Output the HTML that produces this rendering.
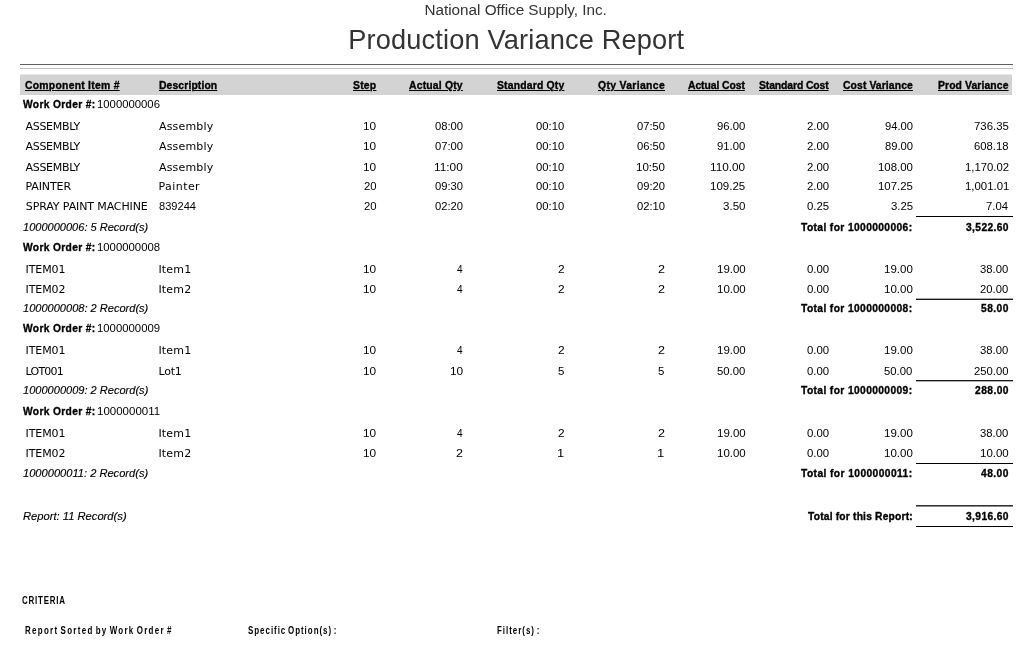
<!DOCTYPE html>
<html lang="en">
<head>
<meta charset="utf-8">
<title>Production Variance Report</title>
<style>
html,body{margin:0;padding:0;background:#fff;}
body{width:1035px;height:648px;position:relative;overflow:hidden;font-family:"Liberation Sans","DejaVu Sans",sans-serif;color:#000;}
.s{position:absolute;white-space:pre;line-height:1;display:block;transform-origin:0 0;}
.r{font-family:"DejaVu Sans","Liberation Sans",sans-serif;color:#000;}
.n{font-family:"Liberation Sans",sans-serif;color:#000;}
.h{font-family:"Liberation Sans",sans-serif;font-weight:bold;text-decoration:underline;text-underline-offset:1px;text-decoration-thickness:1px;-webkit-text-stroke:0.35px #000;}
.b{font-family:"Liberation Sans",sans-serif;font-weight:bold;-webkit-text-stroke:0.35px #000;}
.i{font-family:"Liberation Sans",sans-serif;font-style:italic;color:#000;-webkit-text-stroke:0.15px #000;}
.c{font-family:"Liberation Sans",sans-serif;color:#000;font-weight:bold;}
.t1{font-family:"Liberation Sans",sans-serif;color:#333;}
.t2{font-family:"Liberation Sans",sans-serif;color:#333;}
.l{position:absolute;}
#band{position:absolute;left:20px;top:74px;width:992px;height:21px;background:#d3d3d3;border-top:1px solid #e8e8e8;box-sizing:border-box;}
</style>
</head>
<body>
<div id="band"></div>
<div class="l" style="left:20px;top:64px;width:993px;height:1px;background:#606060"></div>
<div class="l" style="left:20px;top:68px;width:993px;height:1px;background:#c0c0c0"></div>
<div class="l" style="left:916px;top:216px;width:97px;height:1px;background:#000"></div>
<div class="l" style="left:916px;top:298px;width:97px;height:1px;background:#aaa"></div>
<div class="l" style="left:916px;top:299px;width:97px;height:1px;background:#1a1a1a"></div>
<div class="l" style="left:916px;top:380px;width:97px;height:1px;background:#1a1a1a"></div>
<div class="l" style="left:916px;top:381px;width:97px;height:1px;background:#b0b0b0"></div>
<div class="l" style="left:916px;top:463px;width:97px;height:1px;background:#000"></div>
<div class="l" style="left:916px;top:505px;width:97px;height:1px;background:#333"></div>
<div class="l" style="left:916px;top:506px;width:97px;height:1px;background:#888"></div>
<div class="l" style="left:916px;top:526px;width:97px;height:1px;background:#000"></div>
<span class="s t1" style="font-size:15.3px;left:424.53px;top:2.00px;letter-spacing:-0.029px">National Office Supply, Inc.</span>
<span class="s t2" style="font-size:27.2px;left:348.20px;top:26.00px;letter-spacing:0.157px">Production Variance Report</span>
<span class="s h" style="font-size:11.3px;left:24.98px;top:79.80px;letter-spacing:0.272px;transform:scaleX(0.9200)">Component Item #</span>
<span class="s h" style="font-size:11.3px;left:158.54px;top:79.80px;letter-spacing:0.111px;transform:scaleX(0.9200)">Description</span>
<span class="s h" style="font-size:11.3px;left:352.96px;top:79.80px;letter-spacing:0.242px;transform:scaleX(0.9200)">Step</span>
<span class="s h" style="font-size:11.3px;left:409.09px;top:79.80px;letter-spacing:0.202px;transform:scaleX(0.9200)">Actual Qty</span>
<span class="s h" style="font-size:11.3px;left:496.85px;top:79.80px;letter-spacing:0.196px;transform:scaleX(0.9200)">Standard Qty</span>
<span class="s h" style="font-size:11.3px;left:598.30px;top:79.80px;letter-spacing:0.364px;transform:scaleX(0.9200)">Qty Variance</span>
<span class="s h" style="font-size:11.3px;left:687.89px;top:79.80px;letter-spacing:-0.098px;transform:scaleX(0.9200)">Actual Cost</span>
<span class="s h" style="font-size:11.3px;left:758.90px;top:79.80px;letter-spacing:-0.122px;transform:scaleX(0.9200)">Standard Cost</span>
<span class="s h" style="font-size:11.3px;left:843.46px;top:79.80px;letter-spacing:0.094px;transform:scaleX(0.9200)">Cost Variance</span>
<span class="s h" style="font-size:11.3px;left:938.25px;top:79.80px;letter-spacing:0.103px;transform:scaleX(0.9200)">Prod Variance</span>
<span class="s b" style="font-size:10.9px;left:23.20px;top:99.10px;letter-spacing:0.365px;transform:scaleX(0.9400)">Work Order #:</span>
<span class="s n" style="font-size:11.7px;left:96.64px;top:98.10px;transform:scaleX(0.9680)">1000000006</span>
<span class="s r" style="font-size:11.0px;left:25.52px;top:121.00px;letter-spacing:-0.311px">ASSEMBLY</span>
<span class="s r" style="font-size:11.0px;left:158.95px;top:121.00px;letter-spacing:0.191px">Assembly</span>
<span class="s n" style="font-size:11.7px;left:362.96px;top:120.00px;transform:scaleX(1.0111)">10</span>
<span class="s n" style="font-size:11.7px;left:435.37px;top:120.00px;transform:scaleX(0.9596)">08:00</span>
<span class="s n" style="font-size:11.7px;left:536.44px;top:120.00px;transform:scaleX(0.9624)">00:10</span>
<span class="s n" style="font-size:11.7px;left:636.88px;top:120.00px;transform:scaleX(0.9564)">07:50</span>
<span class="s n" style="font-size:11.7px;left:717.08px;top:120.00px;transform:scaleX(0.9693)">96.00</span>
<span class="s n" style="font-size:11.7px;left:806.70px;top:120.00px;transform:scaleX(0.9734)">2.00</span>
<span class="s n" style="font-size:11.7px;left:884.74px;top:120.00px;transform:scaleX(0.9575)">94.00</span>
<span class="s n" style="font-size:11.7px;left:973.91px;top:120.00px;transform:scaleX(0.9743)">736.35</span>
<span class="s r" style="font-size:11.0px;left:25.52px;top:141.00px;letter-spacing:-0.311px">ASSEMBLY</span>
<span class="s r" style="font-size:11.0px;left:158.95px;top:141.00px;letter-spacing:0.191px">Assembly</span>
<span class="s n" style="font-size:11.7px;left:362.96px;top:140.00px;transform:scaleX(1.0111)">10</span>
<span class="s n" style="font-size:11.7px;left:435.43px;top:140.00px;transform:scaleX(0.9605)">07:00</span>
<span class="s n" style="font-size:11.7px;left:536.44px;top:140.00px;transform:scaleX(0.9624)">00:10</span>
<span class="s n" style="font-size:11.7px;left:636.65px;top:140.00px;transform:scaleX(0.9596)">06:50</span>
<span class="s n" style="font-size:11.7px;left:717.11px;top:140.00px;transform:scaleX(0.9671)">91.00</span>
<span class="s n" style="font-size:11.7px;left:806.70px;top:140.00px;transform:scaleX(0.9734)">2.00</span>
<span class="s n" style="font-size:11.7px;left:884.73px;top:140.00px;transform:scaleX(0.9597)">89.00</span>
<span class="s n" style="font-size:11.7px;left:973.88px;top:140.00px;transform:scaleX(0.9664)">608.18</span>
<span class="s r" style="font-size:11.0px;left:25.52px;top:161.50px;letter-spacing:-0.311px">ASSEMBLY</span>
<span class="s r" style="font-size:11.0px;left:158.95px;top:161.50px;letter-spacing:0.191px">Assembly</span>
<span class="s n" style="font-size:11.7px;left:362.96px;top:160.50px;transform:scaleX(1.0111)">10</span>
<span class="s n" style="font-size:11.7px;left:433.98px;top:160.50px;transform:scaleX(1.0144)">11:00</span>
<span class="s n" style="font-size:11.7px;left:536.44px;top:160.50px;transform:scaleX(0.9624)">00:10</span>
<span class="s n" style="font-size:11.7px;left:636.31px;top:160.50px;transform:scaleX(0.9899)">10:50</span>
<span class="s n" style="font-size:11.7px;left:709.93px;top:160.50px;transform:scaleX(1.0081)">110.00</span>
<span class="s n" style="font-size:11.7px;left:806.70px;top:160.50px;transform:scaleX(0.9734)">2.00</span>
<span class="s n" style="font-size:11.7px;left:877.50px;top:160.50px;transform:scaleX(0.9774)">108.00</span>
<span class="s n" style="font-size:11.7px;left:965.01px;top:160.50px;transform:scaleX(0.9699)">1,170.02</span>
<span class="s r" style="font-size:11.0px;left:25.49px;top:181.00px;letter-spacing:-0.107px">PAINTER</span>
<span class="s r" style="font-size:11.0px;left:158.50px;top:181.00px;letter-spacing:0.432px">Painter</span>
<span class="s n" style="font-size:11.7px;left:363.67px;top:180.00px;transform:scaleX(0.9668)">20</span>
<span class="s n" style="font-size:11.7px;left:435.37px;top:180.00px;transform:scaleX(0.9596)">09:30</span>
<span class="s n" style="font-size:11.7px;left:536.44px;top:180.00px;transform:scaleX(0.9624)">00:10</span>
<span class="s n" style="font-size:11.7px;left:636.88px;top:180.00px;transform:scaleX(0.9564)">09:20</span>
<span class="s n" style="font-size:11.7px;left:709.89px;top:180.00px;transform:scaleX(0.9839)">109.25</span>
<span class="s n" style="font-size:11.7px;left:806.70px;top:180.00px;transform:scaleX(0.9734)">2.00</span>
<span class="s n" style="font-size:11.7px;left:877.55px;top:180.00px;transform:scaleX(0.9763)">107.25</span>
<span class="s n" style="font-size:11.7px;left:964.75px;top:180.00px;transform:scaleX(0.9741)">1,001.01</span>
<span class="s r" style="font-size:11.0px;left:25.85px;top:201.00px;letter-spacing:-0.119px">SPRAY PAINT MACHINE</span>
<span class="s n" style="font-size:11.7px;left:158.80px;top:200.00px;transform:scaleX(0.9475)">839244</span>
<span class="s n" style="font-size:11.7px;left:363.67px;top:200.00px;transform:scaleX(0.9668)">20</span>
<span class="s n" style="font-size:11.7px;left:435.43px;top:200.00px;transform:scaleX(0.9605)">02:20</span>
<span class="s n" style="font-size:11.7px;left:536.44px;top:200.00px;transform:scaleX(0.9624)">00:10</span>
<span class="s n" style="font-size:11.7px;left:636.65px;top:200.00px;transform:scaleX(0.9596)">02:10</span>
<span class="s n" style="font-size:11.7px;left:723.19px;top:200.00px;transform:scaleX(0.9875)">3.50</span>
<span class="s n" style="font-size:11.7px;left:806.80px;top:200.00px;transform:scaleX(0.9767)">0.25</span>
<span class="s n" style="font-size:11.7px;left:890.83px;top:200.00px;transform:scaleX(0.9722)">3.25</span>
<span class="s n" style="font-size:11.7px;left:986.45px;top:200.00px;transform:scaleX(0.9689)">7.04</span>
<span class="s i" style="font-size:11.4px;left:23.18px;top:222.00px;transform:scaleX(0.9690)">1000000006: 5 Record(s)</span>
<span class="s b" style="font-size:10.9px;left:801.40px;top:221.60px;letter-spacing:0.411px;transform:scaleX(0.9400)">Total for 1000000006:</span>
<span class="s b" style="font-size:10.9px;left:965.72px;top:221.60px;letter-spacing:0.408px;transform:scaleX(0.9400)">3,522.60</span>
<span class="s b" style="font-size:10.9px;left:23.20px;top:241.60px;letter-spacing:0.365px;transform:scaleX(0.9400)">Work Order #:</span>
<span class="s n" style="font-size:11.7px;left:96.65px;top:240.60px;transform:scaleX(0.9701)">1000000008</span>
<span class="s r" style="font-size:11.0px;left:25.51px;top:263.70px;letter-spacing:-0.078px">ITEM01</span>
<span class="s r" style="font-size:11.0px;left:158.40px;top:263.70px;letter-spacing:0.190px">Item1</span>
<span class="s n" style="font-size:11.7px;left:362.96px;top:262.70px;transform:scaleX(1.0111)">10</span>
<span class="s n" style="font-size:11.7px;left:456.54px;top:262.70px;transform:scaleX(0.8605)">4</span>
<span class="s n" style="font-size:11.7px;left:557.80px;top:262.70px;transform:scaleX(1.0185)">2</span>
<span class="s n" style="font-size:11.7px;left:657.73px;top:262.70px;transform:scaleX(1.0738)">2</span>
<span class="s n" style="font-size:11.7px;left:716.76px;top:262.70px;transform:scaleX(0.9818)">19.00</span>
<span class="s n" style="font-size:11.7px;left:807.01px;top:262.70px;transform:scaleX(0.9759)">0.00</span>
<span class="s n" style="font-size:11.7px;left:883.92px;top:262.70px;transform:scaleX(0.9847)">19.00</span>
<span class="s n" style="font-size:11.7px;left:980.21px;top:262.70px;transform:scaleX(0.9655)">38.00</span>
<span class="s r" style="font-size:11.0px;left:25.60px;top:283.60px;letter-spacing:-0.097px">ITEM02</span>
<span class="s r" style="font-size:11.0px;left:158.40px;top:283.60px;letter-spacing:0.190px">Item2</span>
<span class="s n" style="font-size:11.7px;left:362.96px;top:282.60px;transform:scaleX(1.0111)">10</span>
<span class="s n" style="font-size:11.7px;left:456.54px;top:282.60px;transform:scaleX(0.8605)">4</span>
<span class="s n" style="font-size:11.7px;left:557.80px;top:282.60px;transform:scaleX(1.0185)">2</span>
<span class="s n" style="font-size:11.7px;left:657.73px;top:282.60px;transform:scaleX(1.0738)">2</span>
<span class="s n" style="font-size:11.7px;left:716.76px;top:282.60px;transform:scaleX(0.9818)">10.00</span>
<span class="s n" style="font-size:11.7px;left:807.01px;top:282.60px;transform:scaleX(0.9759)">0.00</span>
<span class="s n" style="font-size:11.7px;left:883.92px;top:282.60px;transform:scaleX(0.9847)">10.00</span>
<span class="s n" style="font-size:11.7px;left:980.36px;top:282.60px;transform:scaleX(0.9619)">20.00</span>
<span class="s i" style="font-size:11.4px;left:23.12px;top:303.10px;transform:scaleX(0.9699)">1000000008: 2 Record(s)</span>
<span class="s b" style="font-size:10.9px;left:801.40px;top:302.70px;letter-spacing:0.411px;transform:scaleX(0.9400)">Total for 1000000008:</span>
<span class="s b" style="font-size:10.9px;left:980.88px;top:302.70px;letter-spacing:0.467px;transform:scaleX(0.9400)">58.00</span>
<span class="s b" style="font-size:10.9px;left:23.20px;top:322.60px;letter-spacing:0.365px;transform:scaleX(0.9400)">Work Order #:</span>
<span class="s n" style="font-size:11.7px;left:96.65px;top:321.60px;transform:scaleX(0.9702)">1000000009</span>
<span class="s r" style="font-size:11.0px;left:25.51px;top:345.40px;letter-spacing:-0.078px">ITEM01</span>
<span class="s r" style="font-size:11.0px;left:158.40px;top:345.40px;letter-spacing:0.190px">Item1</span>
<span class="s n" style="font-size:11.7px;left:362.96px;top:344.40px;transform:scaleX(1.0111)">10</span>
<span class="s n" style="font-size:11.7px;left:456.54px;top:344.40px;transform:scaleX(0.8605)">4</span>
<span class="s n" style="font-size:11.7px;left:557.80px;top:344.40px;transform:scaleX(1.0185)">2</span>
<span class="s n" style="font-size:11.7px;left:657.73px;top:344.40px;transform:scaleX(1.0738)">2</span>
<span class="s n" style="font-size:11.7px;left:716.76px;top:344.40px;transform:scaleX(0.9818)">19.00</span>
<span class="s n" style="font-size:11.7px;left:807.01px;top:344.40px;transform:scaleX(0.9759)">0.00</span>
<span class="s n" style="font-size:11.7px;left:883.92px;top:344.40px;transform:scaleX(0.9847)">19.00</span>
<span class="s n" style="font-size:11.7px;left:980.21px;top:344.40px;transform:scaleX(0.9655)">38.00</span>
<span class="s r" style="font-size:11.0px;left:25.56px;top:366.00px;letter-spacing:-0.769px">LOT001</span>
<span class="s r" style="font-size:11.0px;left:158.40px;top:366.00px;letter-spacing:-0.193px">Lot1</span>
<span class="s n" style="font-size:11.7px;left:362.96px;top:365.00px;transform:scaleX(1.0111)">10</span>
<span class="s n" style="font-size:11.7px;left:449.80px;top:365.00px;transform:scaleX(1.0160)">10</span>
<span class="s n" style="font-size:11.7px;left:557.93px;top:365.00px;transform:scaleX(0.9822)">5</span>
<span class="s n" style="font-size:11.7px;left:657.79px;top:365.00px;transform:scaleX(0.9778)">5</span>
<span class="s n" style="font-size:11.7px;left:717.03px;top:365.00px;transform:scaleX(0.9693)">50.00</span>
<span class="s n" style="font-size:11.7px;left:807.01px;top:365.00px;transform:scaleX(0.9759)">0.00</span>
<span class="s n" style="font-size:11.7px;left:884.43px;top:365.00px;transform:scaleX(0.9663)">50.00</span>
<span class="s n" style="font-size:11.7px;left:973.90px;top:365.00px;transform:scaleX(0.9639)">250.00</span>
<span class="s i" style="font-size:11.4px;left:23.48px;top:385.20px;transform:scaleX(0.9702)">1000000009: 2 Record(s)</span>
<span class="s b" style="font-size:10.9px;left:801.40px;top:384.80px;letter-spacing:0.411px;transform:scaleX(0.9400)">Total for 1000000009:</span>
<span class="s b" style="font-size:10.9px;left:974.70px;top:384.80px;letter-spacing:0.477px;transform:scaleX(0.9400)">288.00</span>
<span class="s b" style="font-size:10.9px;left:23.20px;top:405.60px;letter-spacing:0.365px;transform:scaleX(0.9400)">Work Order #:</span>
<span class="s n" style="font-size:11.7px;left:96.91px;top:404.60px;transform:scaleX(0.9847)">1000000011</span>
<span class="s r" style="font-size:11.0px;left:25.51px;top:428.00px;letter-spacing:-0.078px">ITEM01</span>
<span class="s r" style="font-size:11.0px;left:158.40px;top:428.00px;letter-spacing:0.190px">Item1</span>
<span class="s n" style="font-size:11.7px;left:362.96px;top:427.00px;transform:scaleX(1.0111)">10</span>
<span class="s n" style="font-size:11.7px;left:456.54px;top:427.00px;transform:scaleX(0.8605)">4</span>
<span class="s n" style="font-size:11.7px;left:557.80px;top:427.00px;transform:scaleX(1.0185)">2</span>
<span class="s n" style="font-size:11.7px;left:657.73px;top:427.00px;transform:scaleX(1.0738)">2</span>
<span class="s n" style="font-size:11.7px;left:716.76px;top:427.00px;transform:scaleX(0.9818)">19.00</span>
<span class="s n" style="font-size:11.7px;left:807.01px;top:427.00px;transform:scaleX(0.9759)">0.00</span>
<span class="s n" style="font-size:11.7px;left:883.92px;top:427.00px;transform:scaleX(0.9847)">19.00</span>
<span class="s n" style="font-size:11.7px;left:980.21px;top:427.00px;transform:scaleX(0.9655)">38.00</span>
<span class="s r" style="font-size:11.0px;left:25.60px;top:447.70px;letter-spacing:-0.097px">ITEM02</span>
<span class="s r" style="font-size:11.0px;left:158.40px;top:447.70px;letter-spacing:0.190px">Item2</span>
<span class="s n" style="font-size:11.7px;left:362.96px;top:446.70px;transform:scaleX(1.0111)">10</span>
<span class="s n" style="font-size:11.7px;left:456.14px;top:446.70px;transform:scaleX(1.0705)">2</span>
<span class="s n" style="font-size:11.7px;left:557.09px;top:446.70px;transform:scaleX(1.1001)">1</span>
<span class="s n" style="font-size:11.7px;left:657.37px;top:446.70px;transform:scaleX(1.1177)">1</span>
<span class="s n" style="font-size:11.7px;left:716.76px;top:446.70px;transform:scaleX(0.9818)">10.00</span>
<span class="s n" style="font-size:11.7px;left:807.01px;top:446.70px;transform:scaleX(0.9759)">0.00</span>
<span class="s n" style="font-size:11.7px;left:883.92px;top:446.70px;transform:scaleX(0.9847)">10.00</span>
<span class="s n" style="font-size:11.7px;left:979.67px;top:446.70px;transform:scaleX(0.9836)">10.00</span>
<span class="s i" style="font-size:11.4px;left:23.17px;top:468.20px;transform:scaleX(0.9754)">1000000011: 2 Record(s)</span>
<span class="s b" style="font-size:10.9px;left:801.40px;top:467.80px;letter-spacing:0.441px;transform:scaleX(0.9400)">Total for 1000000011:</span>
<span class="s b" style="font-size:10.9px;left:980.88px;top:467.80px;letter-spacing:0.467px;transform:scaleX(0.9400)">48.00</span>
<span class="s i" style="font-size:11.4px;left:22.80px;top:510.60px;transform:scaleX(0.9820)">Report: 11 Record(s)</span>
<span class="s b" style="font-size:10.9px;left:807.80px;top:510.70px;letter-spacing:0.214px;transform:scaleX(0.9400)">Total for this Report:</span>
<span class="s b" style="font-size:10.9px;left:965.72px;top:510.70px;letter-spacing:0.408px;transform:scaleX(0.9400)">3,916.60</span>
<span class="s c" style="font-size:10.2px;left:21.75px;top:595.60px;letter-spacing:0.992px;word-spacing:-1.80px;transform:scaleX(0.7800)">CRITERIA</span>
<span class="s c" style="font-size:10.2px;left:25.34px;top:625.50px;letter-spacing:1.674px;word-spacing:-1.80px;transform:scaleX(0.7800)">Report Sorted by Work Order #</span>
<span class="s c" style="font-size:10.2px;left:247.80px;top:625.50px;letter-spacing:1.246px;word-spacing:-1.80px;transform:scaleX(0.7800)">Specific Option(s) :</span>
<span class="s c" style="font-size:10.2px;left:497.39px;top:625.50px;letter-spacing:1.251px;word-spacing:-1.80px;transform:scaleX(0.7800)">Filter(s) :</span>
</body></html>
